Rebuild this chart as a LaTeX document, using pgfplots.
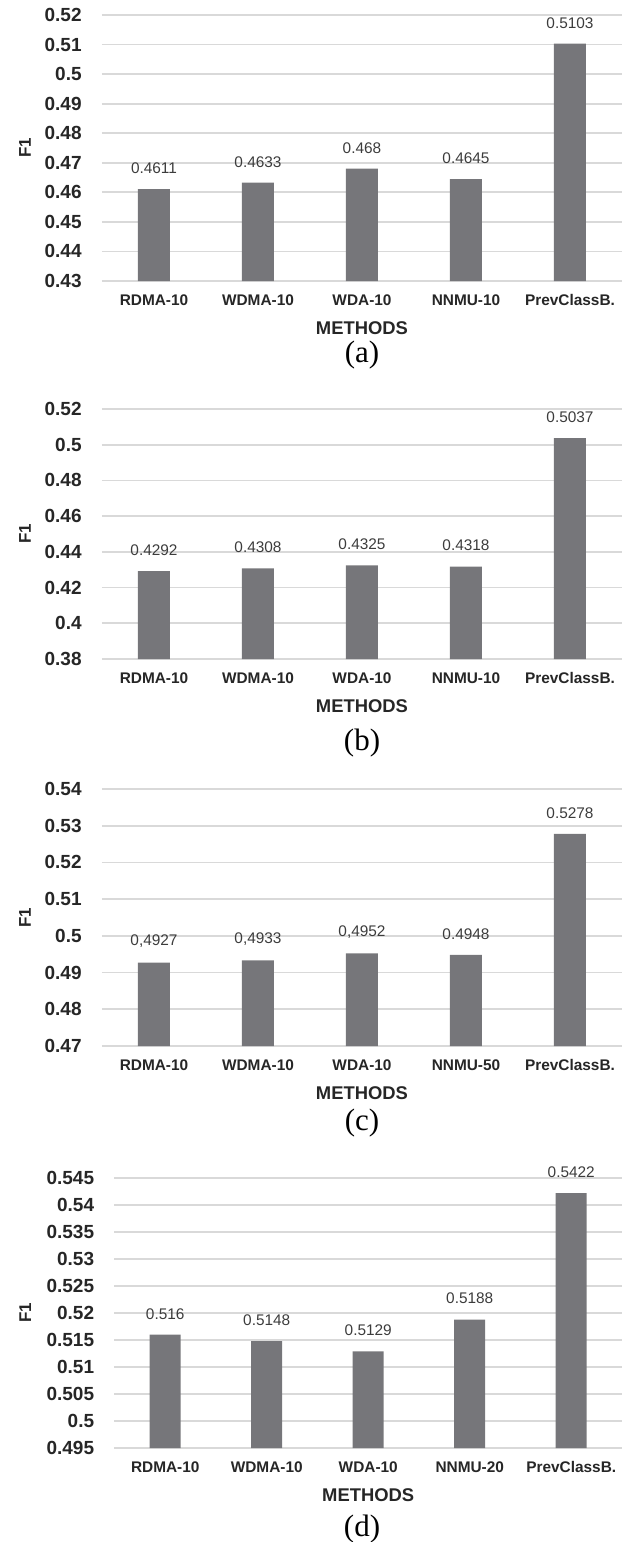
\documentclass[border=0pt]{standalone}
\usepackage{fontspec}
\setmainfont{Liberation Sans}
\newfontfamily\serifcap{Liberation Serif}
\usepackage{pgfplots}
\pgfplotsset{compat=1.18}
\usepackage{pgfplotstable}
\definecolor{barc}{RGB}{118,118,122}
\definecolor{gridc}{RGB}{217,217,217}
\definecolor{txtc}{RGB}{38,38,38}

\pgfplotstableread{
x y label
0 0.4611 0.4611
1 0.4633 0.4633
2 0.4680 0.468
3 0.4645 0.4645
4 0.5103 0.5103
}\dataA
\pgfplotstableread{
x y label
0 0.4292 0.4292
1 0.4308 0.4308
2 0.4325 0.4325
3 0.4318 0.4318
4 0.5037 0.5037
}\dataB
\pgfplotstableread{
x y label
0 0.4927 0,4927
1 0.4933 0,4933
2 0.4952 0,4952
3 0.4948 0.4948
4 0.5278 0.5278
}\dataC
\pgfplotstableread{
x y label
0 0.5160 0.516
1 0.5148 0.5148
2 0.5129 0.5129
3 0.5188 0.5188
4 0.5422 0.5422
}\dataD

\pgfplotsset{
  panel/.style={
    anchor=south west, scale only axis, width=260pt,
    xmin=-0.5, xmax=4.5, xtick={0,1,2,3,4},
    axis line style={draw=none},
    major tick length=0pt,
    ymajorgrids, grid style={gridc, line width=0.9pt},
    ybar, bar width=16pt,
    /pgf/number format/.cd, fixed, precision=3, assume math mode=true, /pgfplots/.cd,
    yticklabel style={anchor=east, inner sep=0pt, xshift=-10pt, text=txtc,
      font=\bfseries\fontsize{9.5}{11}\selectfont},
    xticklabel style={anchor=base, inner sep=0pt, yshift=-12.2pt, text=txtc,
      font=\bfseries\fontsize{7.7}{9}\selectfont},
    xlabel={METHODS},
    xlabel style={at={(axis description cs:0.5,0)}, anchor=base, inner sep=0pt,
      yshift=-26.8pt, text=txtc, font=\bfseries\fontsize{9.2}{11}\selectfont},
    ylabel={F1},
    ylabel style={at={(axis description cs:-0.148,0.5)}, anchor=center, inner sep=0pt,
      text=txtc, font=\bfseries\fontsize{8.5}{10}\selectfont},
    nodes near coords, point meta=explicit symbolic,
    nodes near coords style={anchor=south, inner sep=0pt, yshift=7.5pt,
      text=txtc!90, font=\fontsize{7.7}{9}\selectfont},
  },
  barstyle/.style={fill=barc, draw=none},
}
\tikzset{capstyle/.style={anchor=base, inner sep=0pt, font=\serifcap\fontsize{15.5}{17}\selectfont}}

\begin{document}
\begin{tikzpicture}
\path[use as bounding box] (0pt,0pt) rectangle (317pt,-771pt);

% (a)
\begin{axis}[panel, at={(51pt,-140.5pt)}, height=133pt,
  ymin=0.43, ymax=0.52,
  ytick={0.43,0.44,0.45,0.46,0.47,0.48,0.49,0.5,0.51,0.52},
  xticklabels={RDMA-10,WDMA-10,WDA-10,NNMU-10,PrevClassB.}]
\addplot[barstyle] table[x=x, y=y, meta=label] {\dataA};
\end{axis}
\node[capstyle] at (181pt,-181pt) {(a)};

% (b)
\begin{axis}[panel, at={(51pt,-329.5pt)}, height=125pt,
  ymin=0.38, ymax=0.52,
  ytick={0.38,0.4,0.42,0.44,0.46,0.48,0.5,0.52},
  xticklabels={RDMA-10,WDMA-10,WDA-10,NNMU-10,PrevClassB.}]
\addplot[barstyle] table[x=x, y=y, meta=label] {\dataB};
\end{axis}
\node[capstyle] at (181pt,-375pt) {(b)};

% (c)
\begin{axis}[panel, at={(51pt,-523pt)}, height=128.5pt,
  ymin=0.47, ymax=0.54,
  ytick={0.47,0.48,0.49,0.5,0.51,0.52,0.53,0.54},
  xticklabels={RDMA-10,WDMA-10,WDA-10,NNMU-50,PrevClassB.}]
\addplot[barstyle] table[x=x, y=y, meta=label] {\dataC};
\end{axis}
\node[capstyle] at (181pt,-565pt) {(c)};

% (d)
\begin{axis}[panel, at={(57.25pt,-724pt)}, height=135pt, width=253.75pt,
  bar width=15.5pt,
  ylabel style={at={(axis description cs:-0.176,0.5)}},
  ymin=0.495, ymax=0.545,
  ytick={0.495,0.5,0.505,0.51,0.515,0.52,0.525,0.53,0.535,0.54,0.545},
  xticklabels={RDMA-10,WDMA-10,WDA-10,NNMU-20,PrevClassB.}]
\addplot[barstyle] table[x=x, y=y, meta=label] {\dataD};
\end{axis}
\node[capstyle] at (181pt,-768pt) {(d)};
\end{tikzpicture}
\end{document}
